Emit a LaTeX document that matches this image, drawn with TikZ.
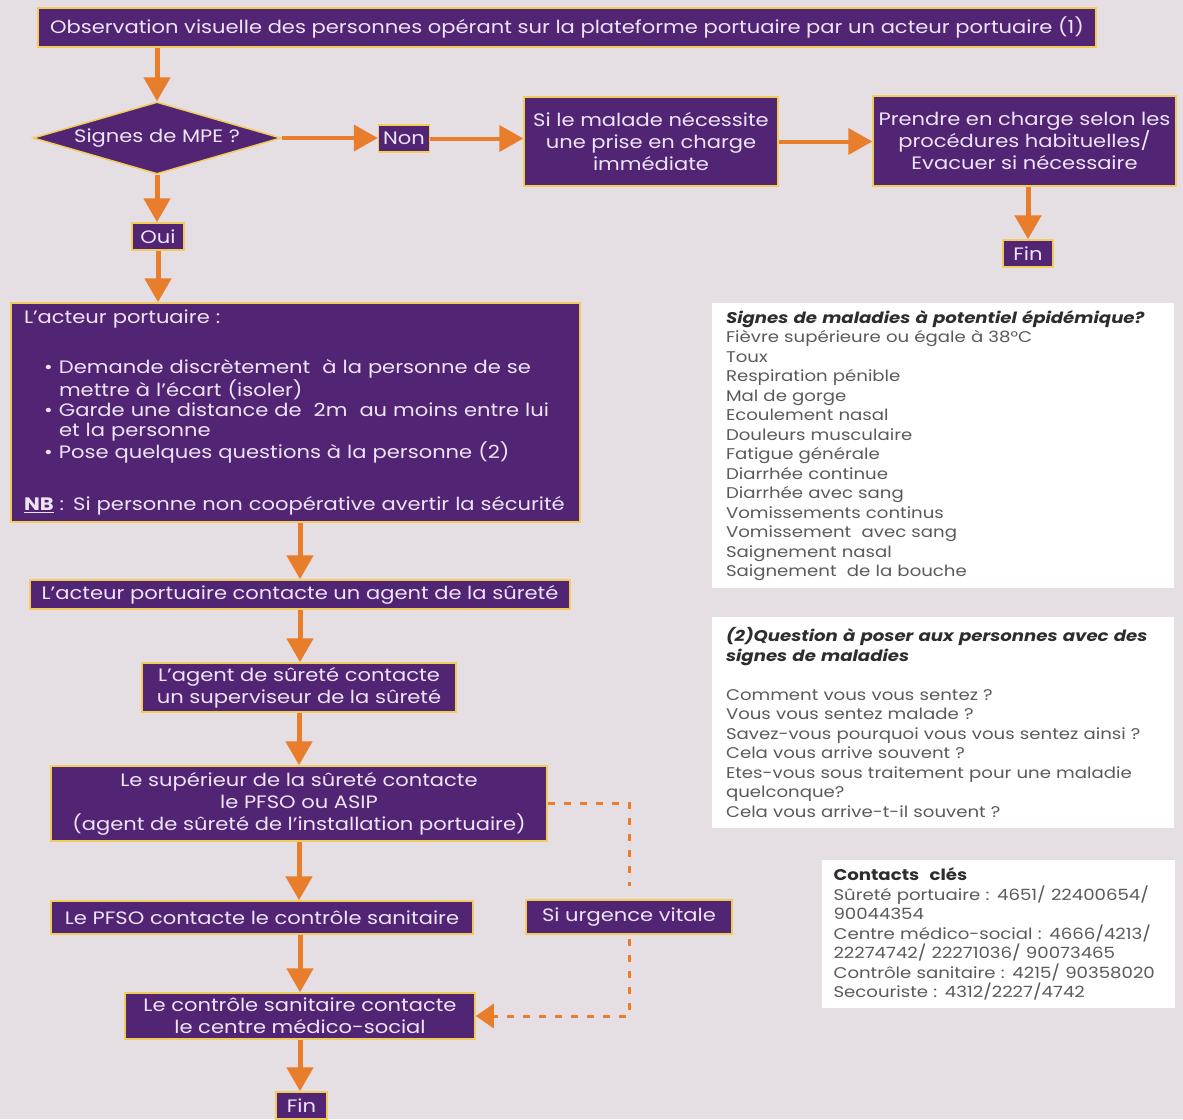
\documentclass[tikz,border=0pt]{standalone}
\usepackage{fontspec}
\setmainfont{Poppins}[FakeStretch=1.17]
\usetikzlibrary{positioning,shapes.geometric,arrows.meta}

\definecolor{fondgris}{RGB}{229,222,227}
\definecolor{pourpre}{RGB}{82,36,116}
\definecolor{bordjaune}{RGB}{240,205,90}
\definecolor{flecheor}{RGB}{232,126,44}
\definecolor{textelav}{RGB}{238,228,246}
\definecolor{grisnote}{RGB}{90,90,90}
\definecolor{noirnote}{RGB}{45,45,45}

\tikzset{
  boite/.style={rectangle, draw=bordjaune, line width=1.5pt, fill=pourpre, text=textelav,
    inner sep=0pt, align=center, font=\fontsize{18}{22}\selectfont},
  fleche/.style={draw=flecheor, line width=5pt, -{Triangle[length=24pt,width=26pt]}},
  pointille/.style={draw=flecheor, line width=3pt, dash pattern=on 7pt off 9pt},
  note/.style={rectangle, fill=white, text=grisnote, align=left, inner sep=0pt,
    font=\fontsize{15.5}{19.5}\selectfont},
}

\begin{document}
\begin{tikzpicture}[x=1pt,y=-1pt]
\clip (0,0) rectangle (1183,1119);
\fill[fondgris] (0,0) rectangle (1183,1119);

% tronc principal
\node[boite, minimum width=1058pt, minimum height=39pt] (obs) at (567,27.5)
  {Observation visuelle des personnes opérant sur la plateforme portuaire par un acteur portuaire (1)};
\node[boite, shape=diamond, aspect=3.4, minimum width=248pt, minimum height=72pt] (sig) at (157,138) {Signes de MPE ?};
\node[boite, minimum width=51pt, minimum height=27pt] (non) at (404,138.5) {Non};
\node[boite, minimum width=254pt, minimum height=89pt] (mal) at (651,141.5)
  {Si le malade nécessite\\une prise en charge\\immédiate};
\node[boite, minimum width=303pt, minimum height=90pt] (prd) at (1024.5,141)
  {Prendre en charge selon les\\procédures habituelles/\\Evacuer si nécessaire};
\node[boite, minimum width=50pt, minimum height=27pt] (fin1) at (1028,253.5) {Fin};
\node[boite, minimum width=52pt, minimum height=27pt] (oui) at (158,236.5) {Oui};
\node[boite, minimum width=569pt, minimum height=219pt, text width=543pt, align=left,
  font=\fontsize{18}{20}\selectfont] (isol) at (295.5,412.5)
  {L'acteur portuaire :\\[30pt]
   \hspace*{20pt}\makebox[15pt][l]{•}Demande discrètement\ \ à la personne de se\\
   \hspace*{35pt}mettre à l'écart (isoler)\\
   \hspace*{20pt}\makebox[15pt][l]{•}Garde une distance de\ \ 2m\ \ au moins entre lui\\
   \hspace*{35pt}et la personne\\
   \hspace*{20pt}\makebox[15pt][l]{•}Pose quelques questions à la personne (2)\\[32pt]
   \underline{\textbf{NB}} : Si personne non coopérative avertir la sécurité};
\node[boite, minimum width=540pt, minimum height=29pt] (act) at (300,594.5)
  {L'acteur portuaire contacte un agent de la sûreté};
\node[boite, minimum width=314pt, minimum height=49pt] (agt) at (299,687.5)
  {L'agent de sûreté contacte\\un superviseur de la sûreté};
\node[boite, minimum width=496pt, minimum height=75pt] (sup) at (299,803.5)
  {Le supérieur de la sûreté contacte\\le PFSO ou ASIP\\(agent de sûreté de l'installation portuaire)};
\node[boite, minimum width=422pt, minimum height=33pt] (pfso) at (262,917.5)
  {Le PFSO contacte le contrôle sanitaire};
\node[boite, minimum width=206pt, minimum height=34pt] (urg) at (629,917)
  {Si urgence vitale};
\node[boite, minimum width=350pt, minimum height=46pt] (cs) at (300,1016)
  {Le contrôle sanitaire contacte\\le centre médico-social};
\node[boite, minimum width=51pt, minimum height=27pt] (fin2) at (301.5,1105.5) {Fin};

% encadres blancs
\node[note, minimum width=462pt, minimum height=285pt, text width=434pt] (signes) at (943,445.5)
  {{\color{noirnote}\textbf{\textit{Signes de maladies à potentiel épidémique?}}}\\
   Fièvre supérieure ou égale à 38°C\\
   Toux\\
   Respiration pénible\\
   Mal de gorge\\
   Ecoulement nasal\\
   Douleurs musculaire\\
   Fatigue générale\\
   Diarrhée continue\\
   Diarrhée avec sang\\
   Vomissements continus\\
   Vomissement\ \ avec sang\\
   Saignement nasal\\
   Saignement\ \ de la bouche};
\node[note, minimum width=462pt, minimum height=211pt, text width=434pt] (quest) at (943,722.5)
  {{\color{noirnote}\textbf{\textit{(2)Question à poser aux personnes avec des\\
   signes de maladies}}}\\[19.5pt]
   Comment vous vous sentez ?\\
   Vous vous sentez malade ?\\
   Savez-vous pourquoi vous vous sentez ainsi ?\\
   Cela vous arrive souvent ?\\
   Etes-vous sous traitement pour une maladie\\
   quelconque?\\
   Cela vous arrive-t-il souvent ?};
\node[note, minimum width=353pt, minimum height=148pt, text width=330pt] (contacts) at (998.5,934)
  {{\color{noirnote}\textbf{Contacts\ \ clés}}\\
   Sûreté portuaire : 4651/ 22400654/\\
   90044354\\
   Centre médico-social : 4666/4213/\\
   22274742/ 22271036/ 90073465\\
   Contrôle sanitaire : 4215/ 90358020\\
   Secouriste : 4312/2227/4742};

% fleches
\draw[fleche] (obs.south -| sig.north) -- (sig.north);
\draw[fleche, line width=4pt] (sig.east) -- (sig.east -| non.west);
\draw[fleche, line width=4pt] (non.east) -- (non.east -| mal.west);
\draw[fleche, line width=4pt] (mal.east) -- (mal.east -| prd.west);
\draw[fleche] (prd.south -| fin1.north) -- (fin1.north);
\draw[fleche] (sig.south) -- (sig.south |- oui.north);
\draw[fleche] (oui.south) -- (oui.south |- isol.north);
\draw[fleche] (isol.south -| act.north) -- (act.north);
\draw[fleche] (act.south) -- (act.south |- agt.north);
\draw[fleche] (agt.south) -- (agt.south |- sup.north);
\draw[fleche] (sup.south) -- (sup.south |- pfso.north);
\draw[fleche] (pfso.south -| cs.north) -- (cs.north);
\draw[fleche] (cs.south) -- (cs.south |- fin2.north);
\draw[pointille] (sup.east) -| ([yshift=13pt]urg.north);
\draw[pointille, -{Triangle[length=18pt,width=24pt]}] ([yshift=-4pt]urg.south) |- (cs.east);
\end{tikzpicture}
\end{document}
